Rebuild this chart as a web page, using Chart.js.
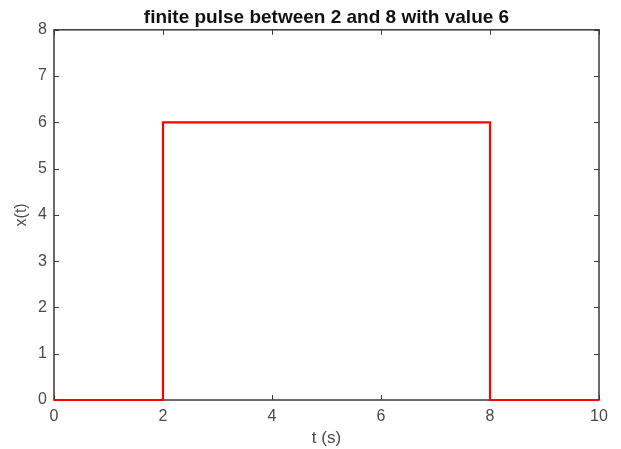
<!DOCTYPE html>
<html>
<head>
<meta charset="utf-8">
<script src="https://cdn.jsdelivr.net/npm/chart.js@4.4.0/dist/chart.umd.min.js"></script>
<style>
  html, body { margin: 0; padding: 0; background: #fff; }
  #wrap { width: 621px; height: 449px; }
</style>
</head>
<body>
<div id="wrap"><canvas id="pulseChart" width="621" height="449"></canvas></div>
<script>
// step pulse: zero, jump to 6 at t=2, back to zero at t=8
const tValues = [0, 2, 2, 8, 8, 10];
const xValues = [0, 0, 6, 6, 0, 0];
const xTicks = [0, 2, 4, 6, 8, 10];
const yTicks = [0, 1, 2, 3, 4, 5, 6, 7, 8];

const axisColor = '#3a3a3a';
const textColor = '#4a4a4a';
const fontName = '"Liberation Sans", Arial, sans-serif';

// matlab style box with inward ticks on all four sides
const boxAxes = {
    id: 'boxAxes',
    beforeDatasetsDraw(chart) {
        const ctx = chart.ctx;
        const a = chart.chartArea;
        const xs = chart.scales.x;
        const ys = chart.scales.y;
        ctx.save();
        ctx.strokeStyle = axisColor;
        ctx.lineWidth = 1.5;
        ctx.strokeRect(a.left, a.top, a.right - a.left, a.bottom - a.top);
        ctx.lineWidth = 1;
        const len = 5;
        xTicks.forEach(v => {
            const px = Math.round(xs.getPixelForValue(v)) + 0.5;
            ctx.beginPath();
            ctx.moveTo(px, a.bottom); ctx.lineTo(px, a.bottom - len);
            ctx.moveTo(px, a.top); ctx.lineTo(px, a.top + len);
            ctx.stroke();
        });
        yTicks.forEach(v => {
            const py = Math.round(ys.getPixelForValue(v)) + 0.5;
            ctx.beginPath();
            ctx.moveTo(a.left, py); ctx.lineTo(a.left + len, py);
            ctx.moveTo(a.right, py); ctx.lineTo(a.right - len, py);
            ctx.stroke();
        });
        ctx.restore();
    }
};

const ctx = document.getElementById('pulseChart');
const chart = new Chart(ctx, {
    type: 'scatter',
    data: {
        datasets: [{
            data: tValues.map((t, i) => ({ x: t, y: xValues[i] })),
            showLine: true,
            borderColor: '#ff0000',
            borderWidth: 2.2,
            pointRadius: 0,
            fill: false,
            clip: 4
        }]
    },
    plugins: [boxAxes],
    options: {
        responsive: false,
        animation: false,
        layout: { padding: { left: 0, right: 22, top: 0, bottom: 0 } },
        plugins: {
            legend: { display: false },
            tooltip: { enabled: false },
            title: {
                display: true,
                fullSize: false,
                text: 'finite pulse between 2 and 8 with value 6',
                color: '#111',
                font: { family: fontName, size: 19, weight: 'bold' },
                padding: { top: 6, bottom: 1 }
            }
        },
        scales: {
            x: {
                type: 'linear',
                min: 0,
                max: 10,
                afterBuildTicks: s => { s.ticks = xTicks.map(v => ({ value: v })); },
                afterFit: s => { s.height = 49; },
                grid: { display: false, drawTicks: false, tickLength: 0 },
                border: { display: false },
                ticks: {
                    color: textColor,
                    font: { family: fontName, size: 16 },
                    padding: 7,
                    maxRotation: 0
                },
                title: {
                    display: true,
                    text: 't (s)',
                    color: textColor,
                    font: { family: fontName, size: 17 },
                    padding: { top: 0, bottom: 0 }
                }
            },
            y: {
                type: 'linear',
                min: 0,
                max: 8,
                afterBuildTicks: s => { s.ticks = yTicks.map(v => ({ value: v })); },
                afterFit: s => { s.width = 54; },
                grid: { display: false, drawTicks: false, tickLength: 0 },
                border: { display: false },
                ticks: {
                    color: textColor,
                    font: { family: fontName, size: 16 },
                    padding: 7
                },
                title: {
                    display: true,
                    text: 'x(t)',
                    color: textColor,
                    font: { family: fontName, size: 16 },
                    padding: { top: 12, bottom: 0 }
                }
            }
        }
    }
});
</script>
</body>
</html>
